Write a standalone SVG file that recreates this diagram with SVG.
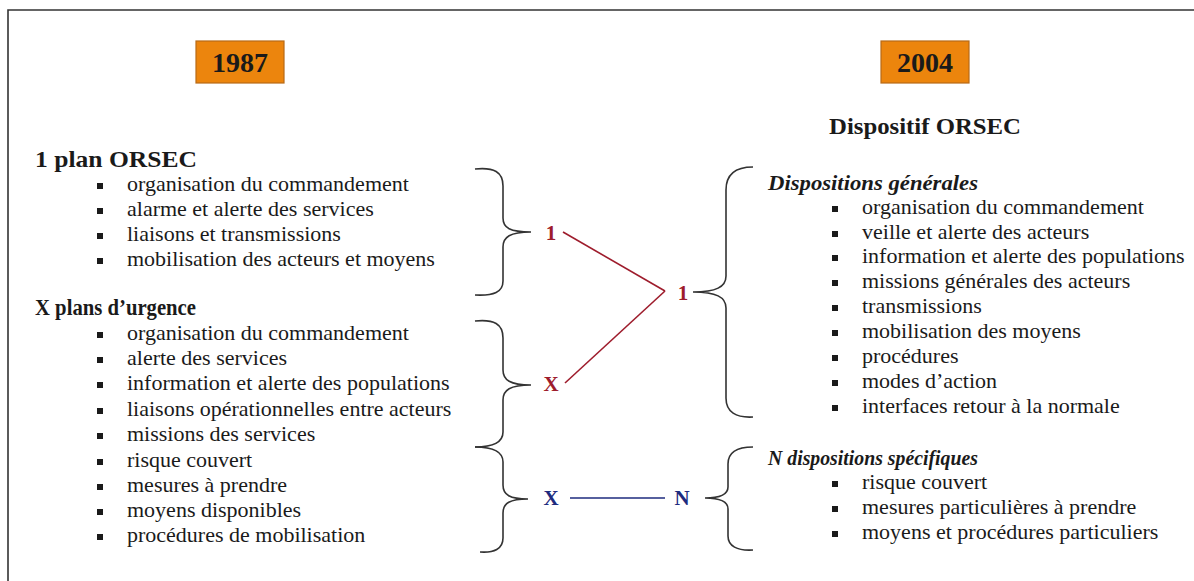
<svg xmlns="http://www.w3.org/2000/svg" width="1194" height="581" viewBox="0 0 1194 581">
<style>
.t{font-family:"Liberation Serif","Times New Roman",serif;font-size:22px;fill:#1a1a1a}
.h{font-family:"Liberation Serif","Times New Roman",serif;font-size:23px;font-weight:bold;fill:#1a1a1a}
.hi{font-family:"Liberation Serif","Times New Roman",serif;font-size:22px;font-weight:bold;font-style:italic;fill:#1a1a1a}
.yr{font-family:"Liberation Serif","Times New Roman",serif;font-size:28px;font-weight:bold;fill:#1a1a1a;text-anchor:middle}
.box{fill:#EC850D;stroke:#B86A16;stroke-width:1.2}
.br{fill:none;stroke:#333;stroke-width:1.6}
.red{font-family:"Liberation Serif","Times New Roman",serif;font-size:21px;font-weight:bold;fill:#9E1C2C;text-anchor:middle}
.blue{font-family:"Liberation Serif","Times New Roman",serif;font-size:21px;font-weight:bold;fill:#1E2B7E;text-anchor:middle}
.bu{fill:#1a1a1a}
</style>
<rect x="0" y="0" width="1194" height="581" fill="#fff"/>
<path d="M8,581 L8,10 L1194,10" fill="none" stroke="#333" stroke-width="1.6"/>

<g id="y1987">
<rect class="box" x="196" y="41" width="88" height="42"/>
<text class="yr" x="240" y="72">1987</text>
</g>
<g id="y2004">
<rect class="box" x="881" y="41" width="88" height="42"/>
<text class="yr" x="925" y="72">2004</text>
</g>

<g id="plan-orsec">
<text class="h" x="35" y="167" textLength="162" lengthAdjust="spacingAndGlyphs">1 plan ORSEC</text>
<rect class="bu" x="97" y="183" width="6" height="6"/><text class="t" x="127" y="191">organisation du commandement</text>
<rect class="bu" x="97" y="208" width="6" height="6"/><text class="t" x="127" y="216">alarme et alerte des services</text>
<rect class="bu" x="97" y="233" width="6" height="6"/><text class="t" x="127" y="241">liaisons et transmissions</text>
<rect class="bu" x="97" y="258" width="6" height="6"/><text class="t" x="127" y="266">mobilisation des acteurs et moyens</text>
</g>

<g id="plans-urgence">
<text class="h" x="35" y="315" textLength="161" lengthAdjust="spacingAndGlyphs">X plans d’urgence</text>
<rect class="bu" x="97" y="332" width="6" height="6"/><text class="t" x="127" y="340">organisation du commandement</text>
<rect class="bu" x="97" y="357" width="6" height="6"/><text class="t" x="127" y="365">alerte des services</text>
<rect class="bu" x="97" y="382" width="6" height="6"/><text class="t" x="127" y="390">information et alerte des populations</text>
<rect class="bu" x="97" y="408" width="6" height="6"/><text class="t" x="127" y="416">liaisons opérationnelles entre acteurs</text>
<rect class="bu" x="97" y="433" width="6" height="6"/><text class="t" x="127" y="441">missions des services</text>
<rect class="bu" x="97" y="459" width="6" height="6"/><text class="t" x="127" y="467">risque couvert</text>
<rect class="bu" x="97" y="484" width="6" height="6"/><text class="t" x="127" y="492">mesures à prendre</text>
<rect class="bu" x="97" y="509" width="6" height="6"/><text class="t" x="127" y="517">moyens disponibles</text>
<rect class="bu" x="97" y="534" width="6" height="6"/><text class="t" x="127" y="542">procédures de mobilisation</text>
</g>

<g id="dispositif">
<text class="h" x="925" y="134" text-anchor="middle" textLength="192" lengthAdjust="spacingAndGlyphs">Dispositif ORSEC</text>
</g>

<g id="dispositions-generales">
<text class="hi" x="768" y="190" textLength="210" lengthAdjust="spacingAndGlyphs">Dispositions générales</text>
<rect class="bu" x="832" y="206" width="6" height="6"/><text class="t" x="862" y="214">organisation du commandement</text>
<rect class="bu" x="832" y="231" width="6" height="6"/><text class="t" x="862" y="239">veille et alerte des acteurs</text>
<rect class="bu" x="832" y="255" width="6" height="6"/><text class="t" x="862" y="263">information et alerte des populations</text>
<rect class="bu" x="832" y="280" width="6" height="6"/><text class="t" x="862" y="288">missions générales des acteurs</text>
<rect class="bu" x="832" y="305" width="6" height="6"/><text class="t" x="862" y="313">transmissions</text>
<rect class="bu" x="832" y="330" width="6" height="6"/><text class="t" x="862" y="338">mobilisation des moyens</text>
<rect class="bu" x="832" y="355" width="6" height="6"/><text class="t" x="862" y="363">procédures</text>
<rect class="bu" x="832" y="380" width="6" height="6"/><text class="t" x="862" y="388">modes d’action</text>
<rect class="bu" x="832" y="405" width="6" height="6"/><text class="t" x="862" y="413">interfaces retour à la normale</text>
</g>

<g id="dispositions-specifiques">
<text class="hi" x="768" y="465" textLength="210" lengthAdjust="spacingAndGlyphs">N dispositions spécifiques</text>
<rect class="bu" x="832" y="481" width="6" height="6"/><text class="t" x="862" y="489">risque couvert</text>
<rect class="bu" x="832" y="506" width="6" height="6"/><text class="t" x="862" y="514">mesures particulières à prendre</text>
<rect class="bu" x="832" y="531" width="6" height="6"/><text class="t" x="862" y="539">moyens et procédures particuliers</text>
</g>

<g id="brackets">
<path class="br" d="M475,169 C494,167 503,172 503,186 L503,218 C503,228 510,232 531,232 C510,232 503,237 503,247 L503,281 C503,292 494,296 475,295"/>
<path class="br" d="M475,321 C494,319 503,324 503,338 L503,370 C503,380 510,385 531,385 C510,385 503,390 503,400 L503,432 C503,442 494,447 475,447"/>
<path class="br" d="M475,447 C494,447 503,452 503,462 L503,485 C503,495 510,499 528,499 C510,499 503,503 503,513 L503,538 C503,549 494,553 480,552"/>
<path class="br" d="M753,167 C736,167 726,174 726,190 L726,276 C726,287 716,292 693,292 C716,292 726,297 726,308 L726,398 C726,412 736,418 753,417"/>
<path class="br" d="M753,447 C737,447 728,452 728,464 L728,487 C728,494 720,498 705,498 C720,498 728,502 728,509 L728,536 C728,546 737,551 753,550"/>
</g>

<g id="labels">
<text class="red" x="551" y="240">1</text>
<text class="red" x="683" y="300">1</text>
<text class="red" x="551" y="391">X</text>
<text class="blue" x="551" y="505">X</text>
<text class="blue" x="682" y="505">N</text>
</g>

<g id="connectors">
<line x1="563" y1="232" x2="665" y2="291" stroke="#9E1C2C" stroke-width="1.6"/>
<line x1="565" y1="383" x2="665" y2="291" stroke="#9E1C2C" stroke-width="1.6"/>
<line x1="570" y1="498" x2="665" y2="498" stroke="#1E2B7E" stroke-width="1.6"/>
</g>
</svg>
